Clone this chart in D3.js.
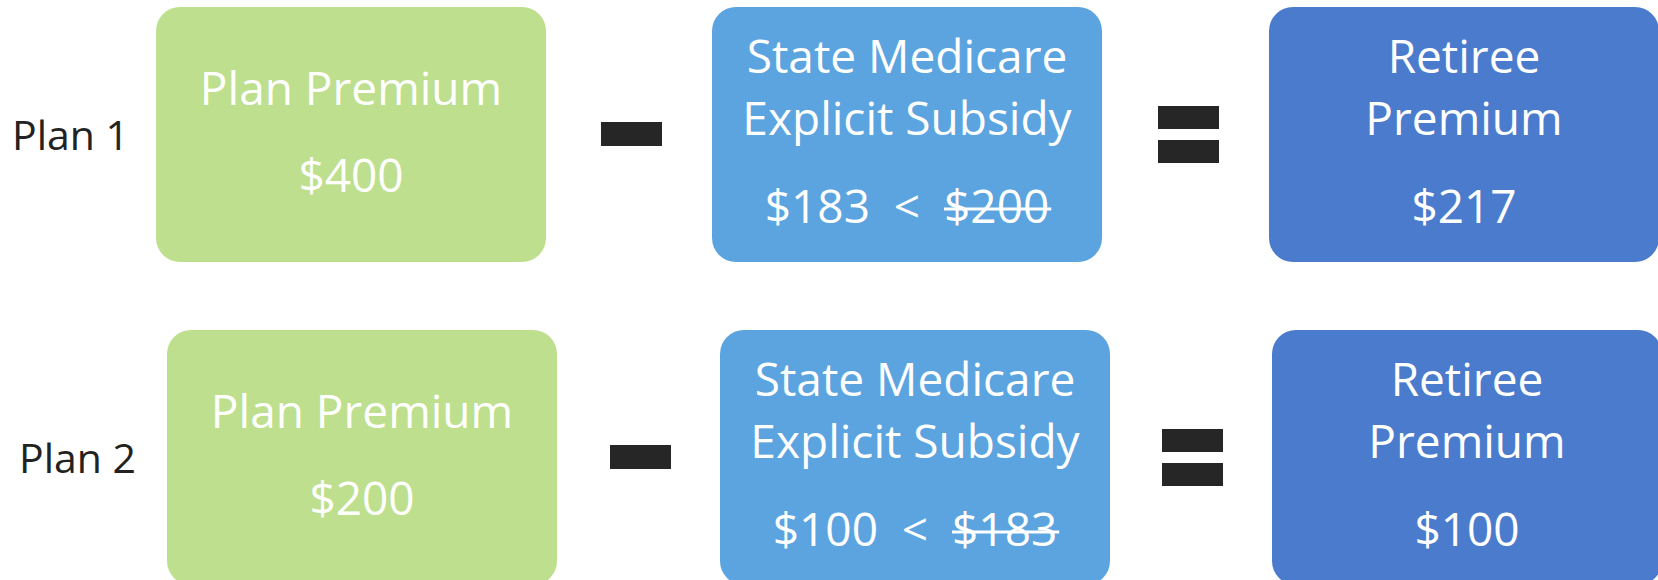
<!DOCTYPE html>
<html>
<head>
<meta charset="utf-8">
<script src="https://cdn.jsdelivr.net/npm/d3@7"></script>
<style>
  html, body { margin: 0; padding: 0; background: #fff; }
  svg { display: block; }
</style>
</head>
<body>
<div id="chart"></div>
<script>
// dati del grafico
const plans = ['Plan 1', 'Plan 2'];
const planPremium = [400, 200];
const explicitSubsidy = [183, 100];
const subsidyCap = [200, 183];
const retireePremium = [217, 100];

const boxTitles = [['Plan Premium'], ['State Medicare', 'Explicit Subsidy'], ['Retiree', 'Premium']];
const boxColors = ['#bddf8e', '#5ba4e0', '#4a7bcd'];

const width = 1658, height = 580;
const fontFamily = '"Open Sans", "Noto Sans", sans-serif';

const svg = d3.select('#chart')
    .append('svg')
    .attr('width', width)
    .attr('height', height);

// righe (una per piano) e colonne (tre box)
const rowY = d3.scaleLinear().domain([0, 1]).range([7, 330]);
const colX = d3.scaleOrdinal().domain([0, 1, 2]).range([156, 712, 1269]);
// piccolo spostamento della seconda riga, come nell'originale
const colShift = [[0, 0, 0], [11, 8, 3]];
const boxW = 390, boxH = 255, radius = 24;

const fmt = (v) => '$' + v;

plans.forEach(function (plan, i) {
    const top = rowY(i);
    const sh = colShift[i];
    const g = svg.append('g').attr('transform', `translate(0, ${top})`);
    const bx = (j) => colX(j) + sh[j];

    // etichetta del piano
    g.append('text')
        .attr('x', 12 + i * 7)
        .attr('y', 143)
        .attr('font-family', fontFamily)
        .attr('font-size', 41)
        .attr('fill', '#222')
        .text(plan);

    // box
    g.selectAll('rect.box')
        .data(boxColors)
        .join('rect')
        .attr('class', 'box')
        .attr('x', (d, j) => bx(j))
        .attr('y', 0)
        .attr('width', boxW)
        .attr('height', boxH)
        .attr('rx', radius)
        .attr('ry', radius)
        .attr('fill', (d) => d);

    // testi nei box
    const txt = (j, y, s) => g.append('text')
        .attr('x', bx(j) + boxW / 2)
        .attr('y', y)
        .attr('text-anchor', 'middle')
        .attr('font-family', fontFamily)
        .attr('font-size', 46)
        .attr('fill', '#fff')
        .text(s);

    txt(0, 98, boxTitles[0][0]);
    txt(0, 185, fmt(planPremium[i]));

    txt(1, 66, boxTitles[1][0]);
    txt(1, 128, boxTitles[1][1]);
    const sub = txt(1, 216, fmt(explicitSubsidy[i]) + '  <  ' + fmt(subsidyCap[i]))
        .attr('xml:space', 'preserve')
        .style('white-space', 'pre');

    txt(2, 66, boxTitles[2][0]);
    txt(2, 128, boxTitles[2][1]);
    txt(2, 216, fmt(retireePremium[i]));

    // barra sul valore massimo non applicato
    const node = sub.node();
    const s = node.textContent;
    const k = s.indexOf('$', 1);
    const x0 = node.getStartPositionOfChar(k).x;
    const x1 = node.getEndPositionOfChar(s.length - 1).x;
    g.append('line')
        .attr('x1', x0)
        .attr('x2', x1 + 2)
        .attr('y1', 202)
        .attr('y2', 202)
        .attr('stroke', '#fff')
        .attr('stroke-width', 3);

    // segno meno
    g.append('rect')
        .attr('x', 601 + i * 9)
        .attr('y', 115)
        .attr('width', 61)
        .attr('height', 24)
        .attr('fill', '#262626');

    // segno uguale
    g.selectAll('rect.eq')
        .data([99, 133])
        .join('rect')
        .attr('class', 'eq')
        .attr('x', 1158 + i * 4)
        .attr('y', (d) => d)
        .attr('width', 61)
        .attr('height', 23)
        .attr('fill', '#262626');
});
</script>
</body>
</html>
